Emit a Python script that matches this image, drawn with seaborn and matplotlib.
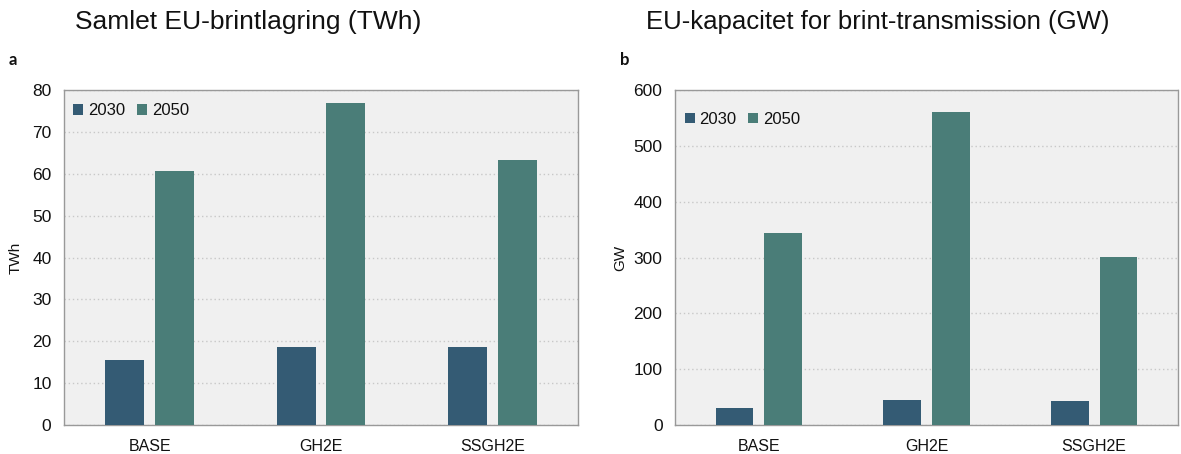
import pandas as pd
import seaborn as sns
import matplotlib.pyplot as plt

# data
scenarios = ['BASE', 'GH2E', 'SSGH2E']
years = ['2030', '2050']
storage_2030 = [15.5, 18.6, 18.6]
storage_2050 = [60.6, 76.8, 63.2]
transmission_2030 = [30, 45, 43]
transmission_2050 = [344, 560, 301]

colors = {'2030': '#345B74', '2050': '#4A7D78'}

sns.set_style('white')
plt.rcParams['font.family'] = ['Liberation Sans', 'DejaVu Sans']
plt.rcParams['text.color'] = '#111111'
plt.rcParams['axes.labelcolor'] = '#111111'


def long_df(v2030, v2050):
    return pd.DataFrame({
        'scenario': scenarios * 2,
        'year': [years[0]] * 3 + [years[1]] * 3,
        'value': v2030 + v2050,
    })


fig = plt.figure(figsize=(11.81, 4.54), dpi=100)
ax1 = fig.add_axes([64 / 1181, 1 - 425 / 454, 514 / 1181, 335 / 454])
ax2 = fig.add_axes([675 / 1181, 1 - 425 / 454, 503 / 1181, 335 / 454])

panels = [
    (ax1, long_df(storage_2030, storage_2050), 80, 10, 'TWh',
     'Samlet EU-brintlagring (TWh)', 'a', 248, 19, 1.01),
    (ax2, long_df(transmission_2030, transmission_2050), 600, 100, 'GW',
     'EU-kapacitet for brint-transmission (GW)', 'b', 878, 18.5, 0.985),
]

for ax, df, ymax, step, ylab, title, letter, tx, tsize, legy in panels:
    ax.set_facecolor('#F0F0F0')
    sns.barplot(data=df, x='scenario', y='value', hue='year', palette=colors,
                width=0.58, gap=0.22, saturation=1, linewidth=0, ax=ax, zorder=3)
    ax.set_xlim(-0.5, 2.5)
    ax.set_ylim(0, ymax)
    ax.set_yticks(range(0, ymax + 1, step))
    ax.yaxis.grid(True, linestyle=(0, (1, 2)), color='#C8C8C8', linewidth=1, zorder=0)
    ax.tick_params(axis='y', length=0, labelsize=12.5, pad=9, colors='#111111')
    ax.tick_params(axis='x', which='major', length=0, labelsize=11.5, pad=10, colors='#111111')
    ax.set_xticks([-0.5, 0.5, 1.5, 2.5], minor=True)
    ax.tick_params(axis='x', which='minor', length=5, color='#999999', width=1)
    for side in ['left', 'bottom', 'right']:
        ax.spines[side].set_color('#999999')
        ax.spines[side].set_linewidth(1)
    ax.spines['top'].set_color('#999999')
    ax.spines['top'].set_linestyle((0, (2, 1)))
    ax.spines['top'].set_linewidth(1)
    ax.set_xlabel('')
    ax.set_ylabel(ylab, fontsize=11, labelpad=6)
    ax.legend(loc='upper left', bbox_to_anchor=(-0.014, legy), ncol=2, frameon=False,
              fontsize=12, handlelength=0.6, handleheight=0.6, handletextpad=0.3,
              columnspacing=0.7, borderaxespad=0.6)
    bb = ax.get_position()
    fig.text(tx / 1181, 1 - 22 / 454, title, ha='center', va='center', fontsize=tsize)
    fig.text(bb.x0 - 55 / 1181, 0.868, letter, ha='left', va='center', fontsize=12,
             fontweight='bold', family=['Lato', 'DejaVu Sans'])

ax1.yaxis.set_label_coords(-0.08, 0.5)
ax2.yaxis.set_label_coords(-0.095, 0.5)

fig.savefig('out.png', dpi=100)
